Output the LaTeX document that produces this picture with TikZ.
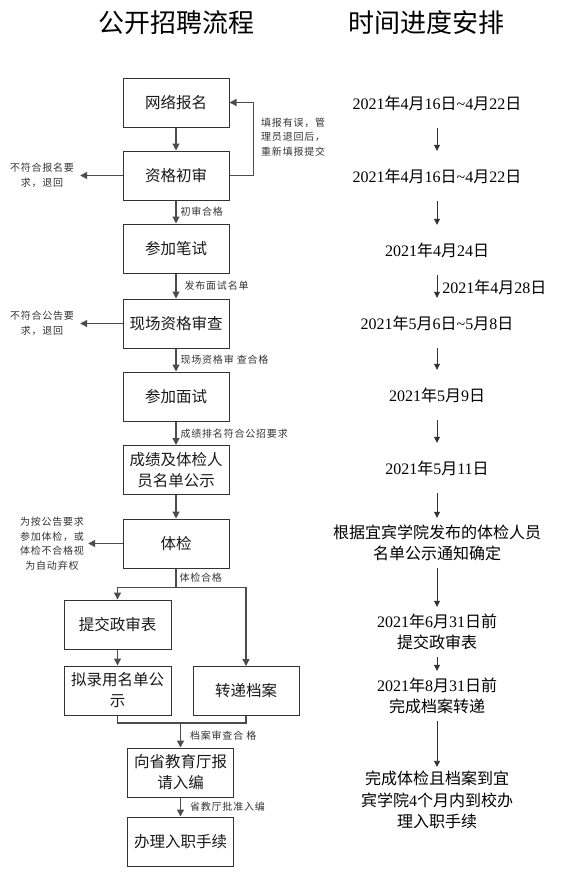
\documentclass[tikz,border=0pt]{standalone}
\usepackage{fontspec}
\setmainfont{Noto Sans CJK SC}
\newfontfamily\tnr{Liberation Serif}
\newfontfamily\smallcjk[LetterSpace=8]{Noto Sans CJK SC}
\usetikzlibrary{positioning, arrows.meta}
\newcommand{\dig}[1]{{\tnr #1}}

\begin{document}
\begin{tikzpicture}[x=1pt, y=-1pt,
    every node/.style={font=\fontsize{15.5}{21}\selectfont, align=center, text=black!90},
    stepbox/.style={rectangle, draw=black!80, line width=1pt, minimum width=106pt, minimum height=49pt, inner sep=2pt},
    note/.style={font=\smallcjk\fontsize{10}{14.5}\selectfont, inner sep=3pt, text=black!80},
    datebox/.style={font=\fontsize{16}{21.5}\selectfont, minimum height=50pt, inner sep=4pt, text=black},
    title/.style={font=\fontsize{26}{30}\selectfont, text=black},
    link/.style={draw=black!70, line width=1.2pt},
    arr/.style={link, -{Triangle[length=7pt, width=7pt]}},
    tarr/.style={draw=black!80, line width=0.8pt, -{Triangle[length=6pt, width=6pt]}},
]
\useasboundingbox (0,0) rectangle (562,875);

% Titles
\node[title] (flowtitle) at (176,23) {公开招聘流程};
\node[title] (timetitle) at (426,23) {时间进度安排};

% Recruitment steps
\node[stepbox] (apply) at (176,102.5) {网络报名};
\node[stepbox] (review) at (176,175.5) {资格初审};
\node[stepbox] (written) at (176,248.5) {参加笔试};
\node[stepbox] (onsite) at (176,323.5) {现场资格审查};
\node[stepbox] (interview) at (176,396.5) {参加面试};
\node[stepbox] (publish) at (176,470) {成绩及体检人\\员名单公示};
\node[stepbox] (medical) at (176,543.5) {体检};
\node[stepbox, minimum width=107pt] (political) at (117.5,624.5) {提交政审表};
\node[stepbox, minimum width=107pt] (hirelist) at (117.5,690.5) {拟录用名单公\\示};
\node[stepbox] (archive) at (246,691) {转递档案};
\node[stepbox] (report) at (180.5,772.5) {向省教育厅报\\请入编};
\node[stepbox] (onboard) at (180.5,841.5) {办理入职手续};

% Side notes
\node[note, inner xsep=6pt] (reject1) at (42,175.5) {不符合报名要\\求，退回};
\node[note, inner xsep=6pt] (reject2) at (42,323.5) {不符合公告要\\求，退回};
\node[note, inner xsep=4pt] (giveup) at (52,543.5) {为按公告要求\\参加体检，或\\体检不合格视\\为自动弃权};
\node[note, align=left, anchor=west] (resubmit) at (258,137) {填报有误，管\\理员退回后，\\重新填报提交};

% Main flow
\draw[arr] (apply) -- (review);
\draw[arr] (review) -- (written) node[note, midway, right, xshift=1pt] {初审合格};
\draw[arr] (written) -- (onsite) node[note, midway, right, xshift=5pt] {发布面试名单};
\draw[arr] (onsite) -- (interview) node[note, midway, right, xshift=1pt] {现场资格审 查合格};
\draw[arr] (interview) -- (publish) node[note, midway, right, xshift=1pt] {成绩排名符合公招要求};
\draw[arr] (publish) -- (medical);
\draw[arr] (review.east) -- ++(24,0) |- (apply.east);
\draw[arr] (review) -- (reject1);
\draw[arr] (onsite) -- (reject2);
\draw[arr] (medical) -- (giveup);

% Branch after the medical check
\draw[arr] (medical.south) -- node[note, right] {体检合格} ++(0,19) coordinate (fork) -| (political.north);
\draw[arr] (fork) -| (archive.north);
\draw[arr] (political) -- (hirelist);
\coordinate (merge) at (180.5,723);
\draw[link] (hirelist.south) |- (merge) -| (archive.south);
\draw[arr] (merge) -- (report) node[note, midway, right, xshift=6pt] {档案审查合 格};
\draw[arr] (report) -- (onboard) node[note, midway, right, xshift=6pt] {省教厅批准入编};

% Schedule
\node[datebox] (d1) at (437,103) {\dig{2021}年\dig{4}月\dig{16}日\dig{\textasciitilde}\dig{4}月\dig{22}日};
\node[datebox] (d2) at (437,176) {\dig{2021}年\dig{4}月\dig{16}日\dig{\textasciitilde}\dig{4}月\dig{22}日};
\node[datebox] (d3) at (437,250) {\dig{2021}年\dig{4}月\dig{24}日};
\node[datebox] (d5) at (437,323) {\dig{2021}年\dig{5}月\dig{6}日\dig{\textasciitilde}\dig{5}月\dig{8}日};
\node[datebox] (d6) at (437,395) {\dig{2021}年\dig{5}月\dig{9}日};
\node[datebox] (d7) at (437,468) {\dig{2021}年\dig{5}月\dig{11}日};
\node[datebox] (d8) at (437,543) {根据宜宾学院发布的体检人员\\名单公示通知确定};
\node[datebox] (d9) at (437,632) {\dig{2021}年\dig{6}月\dig{31}日前\\提交政审表};
\node[datebox] (d10) at (437,696) {\dig{2021}年\dig{8}月\dig{31}日前\\完成档案转递};
\node[datebox] (d11) at (437,800) {完成体检且档案到宜\\宾学院\dig{4}个月内到校办\\理入职手续};

\draw[tarr] (d1) -- (d2);
\draw[tarr] (d2) -- (d3);
\draw[tarr] (d3) -- (d5) node[datebox, minimum height=0pt, pos=0.55, right, xshift=1pt] (d4) {\dig{2021}年\dig{4}月\dig{28}日};
\draw[tarr] (d5) -- (d6);
\draw[tarr] (d6) -- (d7);
\draw[tarr] (d7) -- (d8);
\draw[tarr] (d8) -- (d9);
\draw[tarr] (d9) -- (d10);
\draw[tarr] (d10) -- (d11);
\end{tikzpicture}
\end{document}
